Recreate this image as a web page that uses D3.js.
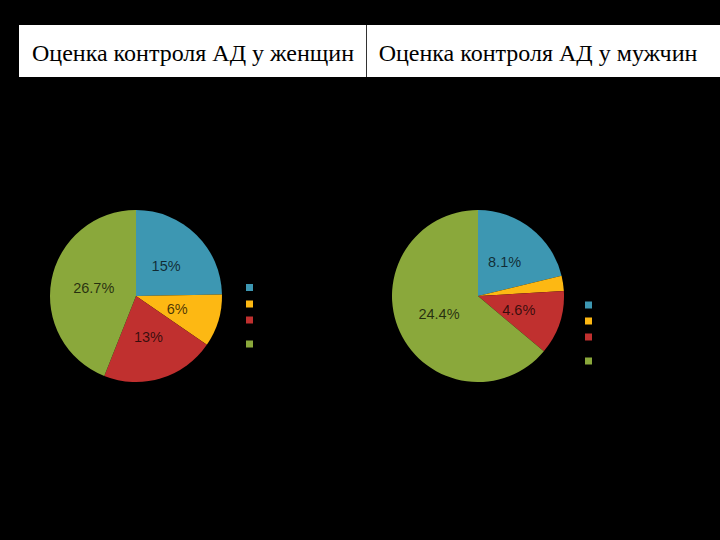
<!DOCTYPE html>
<html>
<head>
<meta charset="utf-8">
<script src="https://cdn.jsdelivr.net/npm/d3@7"></script>
<style>
  html, body { margin: 0; padding: 0; background: #000; }
  svg { display: block; }
</style>
</head>
<body>
<svg id="chart" width="720" height="540"></svg>
<script>
// Data
const titles = ["Оценка контроля АД у женщин", "Оценка контроля АД у мужчин"];
const categories = ["c1", "c2", "c3", "c4"];
const womenValues = [15, 6, 13, 26.7];
const womenLabels = ["15%", "6%", "13%", "26.7%"];
const menValues = [8.1, 1.1, 4.6, 24.4];
const menLabels = ["8.1%", "", "4.6%", "24.4%"];
const colors = ["#3d97b2", "#fdb813", "#c0302f", "#8aa83b"];

const svg = d3.select("#chart");
svg.append("rect").attr("width", 720).attr("height", 540).attr("fill", "#000");

// Header table
const header = svg.append("g");
header.append("rect").attr("x", 19).attr("y", 25).attr("width", 701).attr("height", 52).attr("fill", "#fff");
header.append("line").attr("x1", 366.5).attr("x2", 366.5).attr("y1", 25).attr("y2", 77)
  .attr("stroke", "#333").attr("stroke-width", 1);
const titleX = [193, 538];
titles.forEach((t, i) => {
  header.append("text").attr("x", titleX[i]).attr("y", 61)
    .attr("text-anchor", "middle")
    .attr("font-family", "'Liberation Serif', 'Times New Roman', serif")
    .attr("font-size", 24).attr("fill", "#000").text(t);
});

const color = d3.scaleOrdinal().domain(categories).range(colors);
const pie = d3.pie().sort(null).value(d => d.v);
const R = 86;
const arc = d3.arc().innerRadius(0).outerRadius(R);
const labelArc = d3.arc().innerRadius(43).outerRadius(43);

function drawPie(cx, cy, values, labels, legendX, legendYs) {
  const data = categories.map((c, i) => ({ c, v: values[i], l: labels[i] }));
  const g = svg.append("g").attr("transform", `translate(${cx},${cy})`);
  const arcs = pie(data);
  g.selectAll("path").data(arcs).join("path")
    .attr("d", arc).attr("fill", d => color(d.data.c));
  g.selectAll("text").data(arcs.filter(d => d.data.l)).join("text")
    .attr("transform", d => `translate(${labelArc.centroid(d)})`)
    .attr("text-anchor", "middle").attr("dy", "0.36em")
    .attr("font-family", "'Liberation Sans', Arial, sans-serif")
    .attr("font-size", 14.5).attr("fill", "#000").attr("fill-opacity", 0.72)
    .text(d => d.data.l);
  const lg = svg.append("g");
  lg.selectAll("rect").data(categories).join("rect")
    .attr("x", legendX).attr("y", (d, i) => legendYs[i])
    .attr("width", 7).attr("height", 7).attr("fill", d => color(d));
}

drawPie(136, 296, womenValues, womenLabels, 246, [284, 300.5, 316.5, 340.5]);
drawPie(478, 296, menValues, menLabels, 585, [301.5, 317.5, 333.5, 357.5]);
</script>
</body>
</html>
